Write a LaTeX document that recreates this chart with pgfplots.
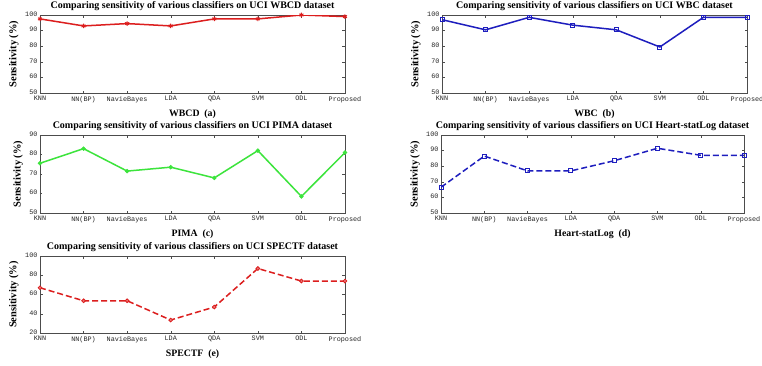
\documentclass[border=0pt]{standalone}
\usepackage{fontspec}
\setmainfont{Liberation Serif}
\setmonofont{Liberation Mono}
\usepackage{pgfplots}
\pgfplotsset{compat=1.18}
\definecolor{mred}{RGB}{220,30,30}
\definecolor{mblue}{RGB}{30,30,190}
\definecolor{mgreen}{RGB}{60,228,60}
\pgfplotsset{mystyle/.style={
  scale only axis, anchor=north west,
  xmin=0, xmax=7, xtick={0,...,7},
  xticklabels={KNN,NN(BP),NavieBayes,LDA,QDA,SVM,ODL,Proposed},
  tick label style={font=\fontsize{6.8}{7}\ttfamily, text=black!85},
  /pgf/number format/assume math mode=true,
  tick align=inside, major tick length=2.5pt,
  xticklabel style={yshift=1pt},
  yticklabel style={xshift=1.5pt, yshift=1pt},
  title style={font=\bfseries\fontsize{10}{11}\selectfont, at={(0.5,1)}, anchor=base, yshift=1pt, inner sep=0pt},
  label style={font=\bfseries\fontsize{9.8}{11}\selectfont},
  xlabel style={yshift=0pt},
  ylabel style={font=\bfseries\fontsize{10.5}{11}\selectfont, yshift=-1pt},
  ylabel={Sensitivity (\%)},
  axis line style={line width=0.5pt, black!70},
  every tick/.style={black!70, line width=0.4pt},
  line width=1.5pt,
}}
\begin{document}
\begin{tikzpicture}
\useasboundingbox[fill=white] (0pt,0pt) rectangle (762pt,-365pt);
% (a)
\begin{axis}[mystyle, at={(40pt,-15pt)}, width=305pt, height=78pt,
  ymin=50, ymax=100, ytick={50,60,...,100},
  title={Comparing sensitivity of various classifiers on UCI WBCD dataset},
  xlabel={WBCD\ \ (a)}]
\addplot[mred, solid, mark=asterisk, mark size=2.3pt, mark options={line width=1pt}] coordinates {
(0,97.5) (1,93) (2,94.5) (3,93) (4,97.5) (5,97.5) (6,100) (7,99)};
\end{axis}
% (b)
\begin{axis}[mystyle, at={(442pt,-15pt)}, width=305pt, height=78pt,
  ymin=50, ymax=100, ytick={50,60,...,100},
  title={Comparing sensitivity of various classifiers on UCI WBC dataset},
  xlabel={WBC\ \ (b)}]
\addplot[mblue, solid, mark=square, mark size=2pt, mark options={line width=0.9pt}] coordinates {
(0,97) (1,90.5) (2,98.5) (3,93.5) (4,90.5) (5,79.5) (6,98.5) (7,98.5)};
\end{axis}
% (c)
\begin{axis}[mystyle, at={(40pt,-135pt)}, width=305pt, height=78pt,
  ymin=50, ymax=90, ytick={50,60,...,90},
  title={Comparing sensitivity of various classifiers on UCI PIMA dataset},
  xlabel={PIMA\ \ (c)}]
\addplot[mgreen, solid, mark=*, mark size=1.9pt, mark options={line width=0.6pt, fill=mgreen}] coordinates {
(0,75.5) (1,83) (2,71.5) (3,73.5) (4,68) (5,82) (6,58.5) (7,81)};
\end{axis}
% (d)
\begin{axis}[mystyle, at={(441pt,-135pt)}, width=303pt, height=78pt,
  ymin=50, ymax=100, ytick={50,60,...,100},
  title={Comparing sensitivity of various classifiers on UCI Heart-statLog dataset},
  xlabel={Heart-statLog\ \ (d)}]
\addplot[mblue, dashed, dash pattern=on 6pt off 3pt, mark=square, mark size=2pt, mark options={solid, line width=0.9pt}] coordinates {
(0,66.5) (1,86.5) (2,77) (3,77) (4,83.5) (5,91.5) (6,87) (7,87)};
\end{axis}
% (e)
\begin{axis}[mystyle, at={(40pt,-256pt)}, width=305pt, height=77pt,
  ymin=20, ymax=100, ytick={20,40,...,100},
  title={Comparing sensitivity of various classifiers on UCI SPECTF dataset},
  xlabel={SPECTF\ \ (e)}]
\addplot[mred, dashed, dash pattern=on 6pt off 3pt, mark=*, mark size=1.9pt, mark options={solid, line width=0.8pt, fill=mred!60!white}] coordinates {
(0,67) (1,53.5) (2,53.5) (3,33.5) (4,47) (5,87) (6,74) (7,74)};
\end{axis}
\end{tikzpicture}
\end{document}
